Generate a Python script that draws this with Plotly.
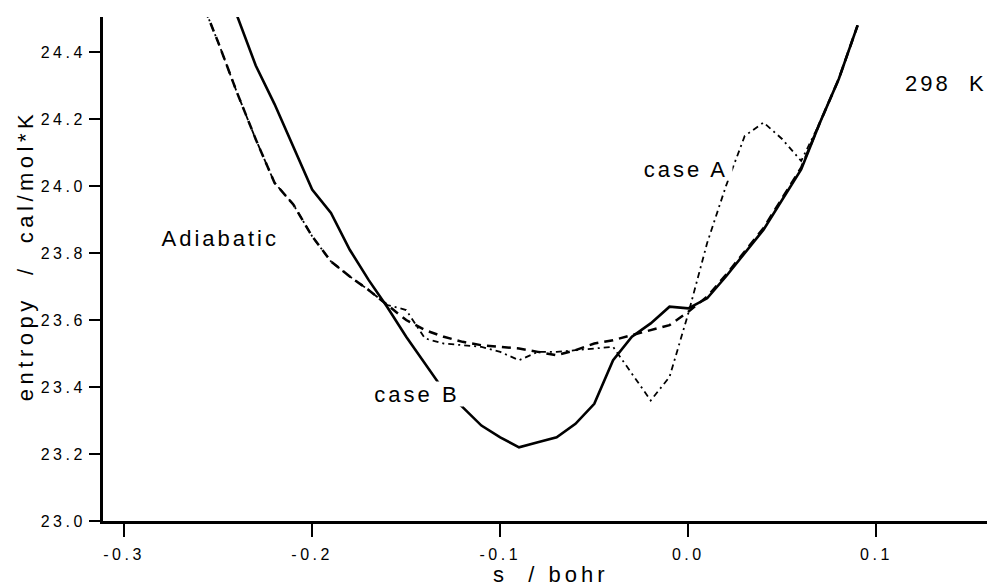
import plotly.graph_objects as go

# reaction coordinate s (bohr)
s_adiabatic = [-0.26, -0.25, -0.24, -0.23, -0.22, -0.21, -0.20, -0.19, -0.18, -0.17,
               -0.16, -0.15, -0.14, -0.13, -0.12, -0.11, -0.10, -0.09, -0.08, -0.07,
               -0.06, -0.05, -0.04, -0.03, -0.02, -0.01, 0.00, 0.01, 0.02, 0.03,
               0.04, 0.05, 0.06, 0.07, 0.08, 0.09]
S_adiabatic = [24.57, 24.43, 24.28, 24.14, 24.01, 23.945, 23.85, 23.775, 23.73, 23.69,
               23.645, 23.60, 23.57, 23.55, 23.535, 23.525, 23.52, 23.515, 23.505, 23.495,
               23.51, 23.53, 23.54, 23.555, 23.57, 23.585, 23.625, 23.67, 23.735, 23.805,
               23.875, 23.965, 24.055, 24.19, 24.32, 24.48]

s_caseA = [-0.26, -0.25, -0.24, -0.23, -0.22, -0.21, -0.20, -0.19, -0.18, -0.17,
           -0.16, -0.15, -0.14, -0.13, -0.12, -0.11, -0.10, -0.09, -0.08, -0.07,
           -0.06, -0.05, -0.04, -0.03, -0.02, -0.01, 0.00, 0.01, 0.02, 0.03,
           0.04, 0.05, 0.06, 0.07, 0.08, 0.09]
S_caseA = [24.57, 24.43, 24.28, 24.14, 24.01, 23.945, 23.85, 23.775, 23.73, 23.69,
           23.645, 23.63, 23.545, 23.53, 23.525, 23.52, 23.505, 23.48, 23.505, 23.505,
           23.51, 23.515, 23.52, 23.44, 23.36, 23.43, 23.62, 23.83, 24.0, 24.15,
           24.19, 24.14, 24.075, 24.19, 24.32, 24.48]

s_caseB = [-0.24, -0.23, -0.22, -0.21, -0.20, -0.19, -0.18, -0.17, -0.16, -0.15,
           -0.14, -0.13, -0.12, -0.11, -0.10, -0.09, -0.08, -0.07, -0.06, -0.05,
           -0.04, -0.03, -0.02, -0.01, 0.00, 0.01, 0.02, 0.03, 0.04, 0.05,
           0.06, 0.07, 0.08, 0.09]
S_caseB = [24.51, 24.36, 24.245, 24.12, 23.99, 23.92, 23.81, 23.72, 23.638, 23.55,
           23.47, 23.39, 23.34, 23.285, 23.25, 23.22, 23.235, 23.25, 23.29, 23.35,
           23.48, 23.55, 23.59, 23.64, 23.635, 23.665, 23.73, 23.80, 23.87, 23.96,
           24.05, 24.19, 24.32, 24.48]

x_ticks = [-0.3, -0.2, -0.1, 0.0, 0.1]
x_ticktext = ["-0.3", "-0.2", "-0.1", "0.0", "0.1"]
y_ticks = [23.0, 23.2, 23.4, 23.6, 23.8, 24.0, 24.2, 24.4]
y_ticktext = ["23.0", "23.2", "23.4", "23.6", "23.8", "24.0", "24.2", "24.4"]

FONT = "Liberation Sans, Arial, Helvetica, sans-serif"

fig = go.Figure()
fig.add_trace(go.Scatter(x=s_caseA, y=S_caseA, mode="lines", name="case A",
                         line=dict(color="black", width=1.8, dash="6px,4px,2px,4px")))
fig.add_trace(go.Scatter(x=s_adiabatic, y=S_adiabatic, mode="lines", name="Adiabatic",
                         line=dict(color="black", width=2.5, dash="9px,6px")))
fig.add_trace(go.Scatter(x=s_caseB, y=S_caseB, mode="lines", name="case B",
                         line=dict(color="black", width=2.6)))

label_font = dict(family=FONT, size=22, color="black")
annotations = [
    dict(x=-0.2486, y=23.845, text="Adiabatic", showarrow=False, font=label_font),
    dict(x=-0.1445, y=23.378, text="case B", showarrow=False, font=label_font,
         bgcolor="white", width=90, height=22),
    dict(x=-0.0011, y=24.051, text="case A", showarrow=False, font=label_font,
         bgcolor="white", width=90, height=20),
    dict(x=0.137, y=24.305, text="298  K", showarrow=False, font=label_font),
    # axis titles
    dict(x=0.5057, y=-0.107, xref="paper", yref="paper", text="s  / bohr",
         xanchor="center", yanchor="middle", showarrow=False, font=label_font),
    dict(x=-0.0871, y=0.526, xref="paper", yref="paper", text="entropy  /  cal/mol*K",
         xanchor="center", yanchor="middle", textangle=-90, showarrow=False,
         font=label_font),
]

fig.update_layout(
    width=987, height=586,
    margin=dict(l=103, r=0, t=17, b=65),
    paper_bgcolor="white", plot_bgcolor="white",
    showlegend=False,
    font=dict(family=FONT, color="black"),
    annotations=annotations,
    xaxis=dict(range=[-0.3112, 0.1588], tickvals=x_ticks, ticktext=x_ticktext,
               showline=True, linewidth=3, linecolor="black", ticks="outside",
               ticklen=13, tickwidth=2, tickcolor="black", showgrid=False,
               ticklabelstandoff=4,
               zeroline=False, tickfont=dict(family=FONT, size=16, color="black")),
    yaxis=dict(range=[23.0, 24.505], tickvals=y_ticks, ticktext=y_ticktext,
               showline=True, linewidth=3, linecolor="black", ticks="outside",
               ticklen=11, tickwidth=2, tickcolor="black", showgrid=False,
               zeroline=False, tickfont=dict(family=FONT, size=16, color="black")),
)

# widen character spacing of the labels once the plot has been drawn
spacing_js = """
var gd = document.getElementById('{plot_id}');
gd.querySelectorAll('.annotation-text').forEach(function(t){
    var s = t.textContent;
    if (s.indexOf('entropy') >= 0) { t.style.letterSpacing = '4.5px'; }
    else if (s.indexOf('bohr') >= 0) { t.style.letterSpacing = '4px'; }
    else { t.style.letterSpacing = '3px'; }
});
gd.querySelectorAll('.xtick text, .ytick text').forEach(function(t){ t.style.letterSpacing = '3.5px'; });
"""

fig.write_html("out.html", post_script=spacing_js)
